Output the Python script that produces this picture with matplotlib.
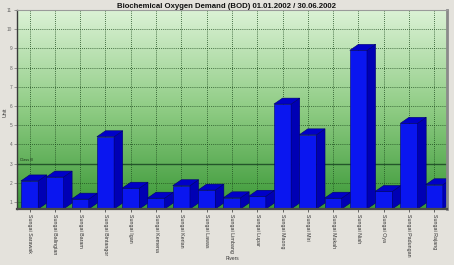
import numpy as np
import matplotlib
matplotlib.use('Agg')
import matplotlib.pyplot as plt
from matplotlib.patches import Polygon, Rectangle
from matplotlib.colors import LinearSegmentedColormap

# data
rivers = ["Sungai Sarawak", "Sungai Balingian", "Sungai Baram", "Sungai Bintangor",
          "Sungai Igan", "Sungai Kemena", "Sungai Kerian", "Sungai Lawas",
          "Sungai Limbang", "Sungai Lupar", "Sungai Maong", "Sungai Miri",
          "Sungai Mukah", "Sungai Niah", "Sungai Oya", "Sungai Padungan",
          "Sungai Rajang"]
bod = [2.1, 2.3, 1.15, 4.4, 1.72, 1.2, 1.85, 1.62, 1.22, 1.3, 6.1, 4.5,
       1.2, 8.9, 1.55, 5.1, 1.9]
class_iii = 3.0
y_ticks = list(range(1, 12))

plt.rcParams['font.family'] = ['Liberation Sans', 'DejaVu Sans']

fig = plt.figure(figsize=(4.54, 2.65), dpi=100, facecolor='#e4e2dc')
ax = fig.add_axes([0.0374, 0.2113, 0.947, 0.751])

# green gradient background
grad = np.linspace(0, 1, 256)[:, None]
bg_cmap = LinearSegmentedColormap.from_list('bg', ['#dcf2d6', '#8fcc84', '#3a9836'])
ax.imshow(grad, extent=[0, 1, 0, 1], transform=ax.transAxes, aspect='auto',
          cmap=bg_cmap, zorder=0)

n = len(rivers)
y0 = 0.635
ax.set_xlim(-0.5, n - 0.5)
ax.set_ylim(y0, 11)

# dotted grid
dots = (0, (1, 1.5))
for yv in y_ticks[:-1]:
    ax.axhline(yv, color='#1e4a1e', lw=0.6, ls=dots, zorder=1)
for i in range(n):
    ax.axvline(i, color='#1e4a1e', lw=0.6, ls=dots, zorder=1)

# class III threshold line
ax.axhline(class_iii, color='#24552a', lw=1.0, zorder=1.5)
ax.text(-0.4, class_iii + 0.08, "Class III", fontsize=2.6, color='#1a2a1a',
        va='bottom', ha='left', zorder=2)

# 3D bars
w = 0.34
dx, dy = 0.34, 0.31
for i, v in enumerate(bod):
    front = Rectangle((i - w, y0), 2 * w, v - y0, fc='#0a16f0', ec='#00006e',
                      lw=0.4, zorder=3)
    side = Polygon([(i + w, y0), (i + w + dx, y0 + dy), (i + w + dx, v + dy),
                    (i + w, v)], closed=True, fc='#0000b4', ec='#00006e',
                   lw=0.4, zorder=3)
    top = Polygon([(i - w, v), (i - w + dx, v + dy), (i + w + dx, v + dy),
                   (i + w, v)], closed=True, fc='#0000c8', ec='#00006e',
                  lw=0.4, zorder=3)
    for p in (front, side, top):
        ax.add_patch(p)

ax.set_xticks(range(n))
ax.set_xticklabels(rivers, rotation=-90, fontsize=3.8, color='#333333')
ax.set_yticks(y_ticks)
ax.set_yticklabels([str(t) for t in y_ticks], fontsize=3.4, color='#666666')
ax.tick_params(axis='x', length=2, width=0.5, pad=1.5, color='#333333')
ax.tick_params(axis='y', length=2, width=0.5, pad=1.5, color='#777777')

for s, (c, lw) in {'left': ('#3a3a3a', 1.0), 'bottom': ('#4a4a4a', 1.6),
                   'right': ('#8a8a8a', 2.0), 'top': ('#9a9a9a', 0.8)}.items():
    ax.spines[s].set_color(c)
    ax.spines[s].set_linewidth(lw)
    ax.spines[s].set_zorder(5)

fig.text(0.498, 0.99, "Biochemical Oxygen Demand (BOD) 01.01.2002 / 30.06.2002",
         fontsize=5.6, weight='bold', ha='center', va='top', color='#111111')
fig.text(0.012, 1 - 112 / 265, "Unit", rotation=90, fontsize=3.8,
         ha='center', va='center', color='#333333')
fig.text(232 / 454, 1 - 258 / 265, "Rivers", fontsize=3.4, ha='center',
         va='center', color='#333333')

fig.savefig('out.png', dpi=100, facecolor=fig.get_facecolor())
